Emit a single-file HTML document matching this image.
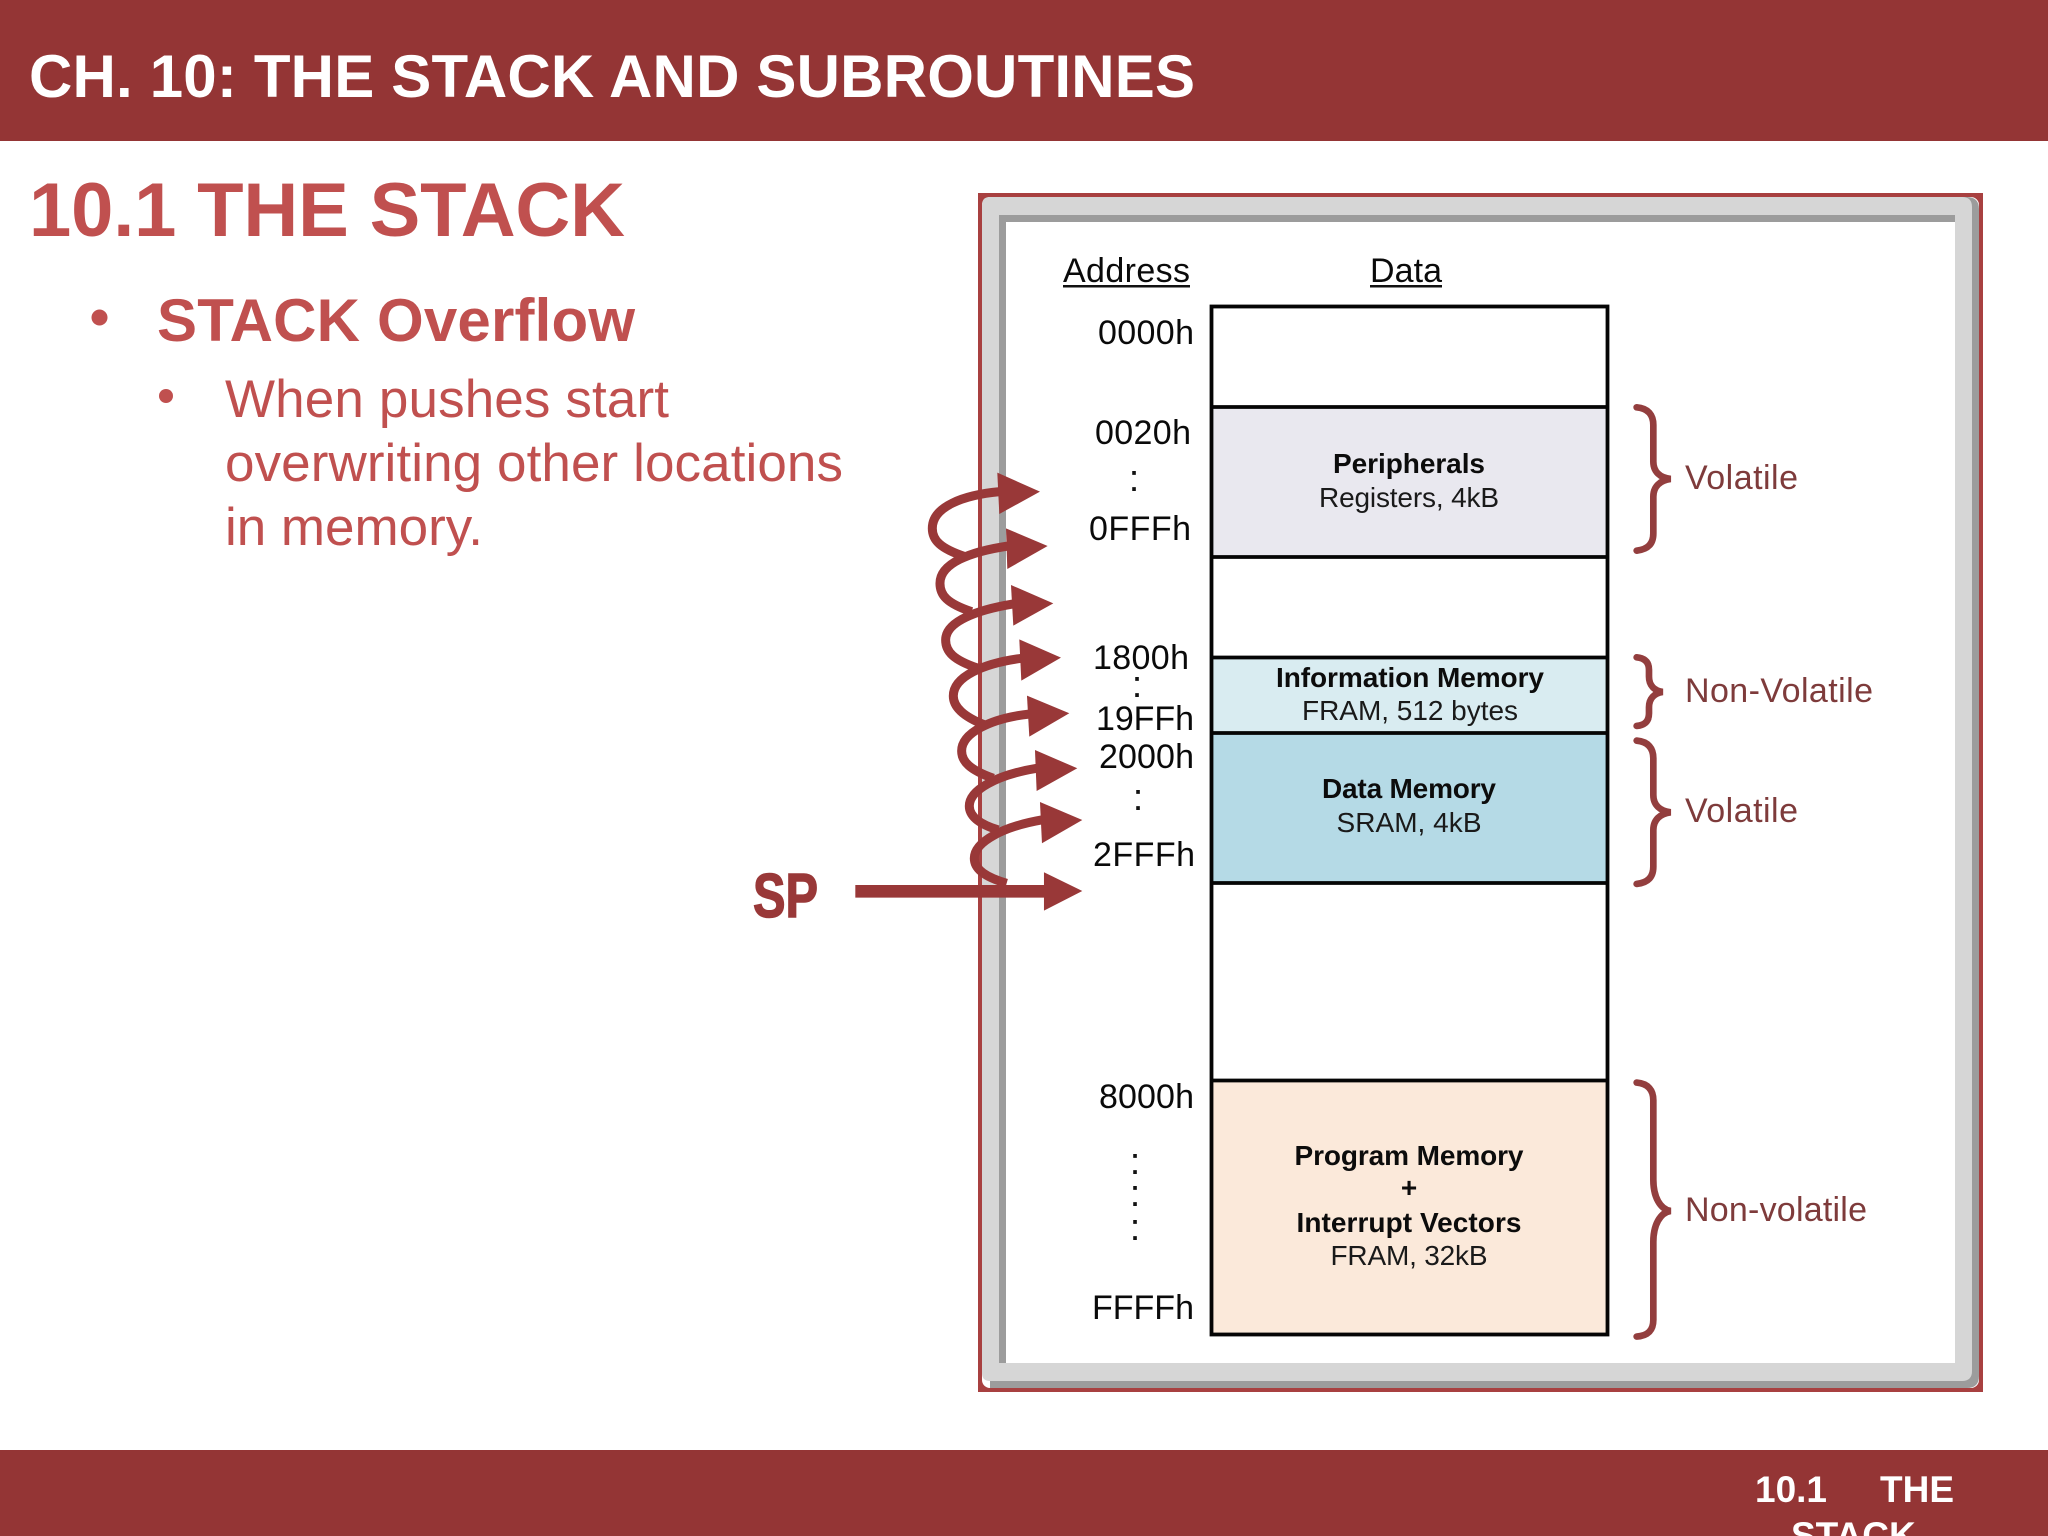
<!DOCTYPE html>
<html><head><meta charset="utf-8"><style>
html,body{margin:0;padding:0;background:#fff;width:2048px;height:1536px;overflow:hidden}
svg{display:block}
text{font-family:"Liberation Sans",Arial,sans-serif}
.a{font-size:34px;fill:#0a0a0a}
.b{font-size:28px;font-weight:bold;fill:#0c0c0c;text-anchor:middle}
.r{font-size:28px;fill:#1a1a1a;text-anchor:middle}
.v{font-size:34px;fill:#7e3b3b}
.c{font-size:38px;fill:#111;text-anchor:middle}
.t{font-size:53px;fill:#c0504f}
</style></head><body>
<svg xmlns="http://www.w3.org/2000/svg" width="2048" height="1536" viewBox="0 0 2048 1536">
<rect width="2048" height="1536" fill="#fff"/>
<rect width="2048" height="141" fill="#943535"/>
<rect y="1450" width="2048" height="86" fill="#943535"/>
<text x="29" y="97" font-size="60" font-weight="bold" fill="#fff" textLength="1166">CH. 10: THE STACK AND SUBROUTINES</text>
<text x="1755" y="1502" font-size="37" font-weight="bold" fill="#fff">10.1</text>
<text x="1880" y="1502" font-size="37" font-weight="bold" fill="#fff">THE</text>
<text x="1791" y="1548" font-size="37" font-weight="bold" fill="#fff">STACK</text>
<text x="29" y="236" font-size="76" font-weight="bold" fill="#c0504f" textLength="596">10.1 THE STACK</text>
<circle cx="99.5" cy="317.5" r="8" fill="#c0504f"/>
<text x="157" y="341" font-size="60" font-weight="bold" fill="#c0504f" textLength="478">STACK Overflow</text>
<circle cx="166" cy="396" r="7" fill="#c0504f"/>
<text class="t" x="225" y="417" textLength="444">When pushes start</text>
<text class="t" x="225" y="481" textLength="618">overwriting other locations</text>
<text class="t" x="225" y="545" textLength="258">in memory.</text>

<!-- panel -->
<rect x="978" y="193" width="1005" height="1199" fill="#a84040"/>
<rect x="982" y="197" width="997" height="1191" rx="8" fill="#fff"/>
<path d="M990 197H1967Q1979 197 1979 209V1376Q1979 1388 1967 1388H990Z" fill="#9c9c9c"/>
<path d="M990 197H1962Q1972 197 1972 207V1371Q1972 1381 1962 1381H990Q982 1381 982 1373V205Q982 197 990 197Z" fill="#d6d6d6"/>
<rect x="999" y="215" width="956" height="1148" fill="#9c9c9c"/>
<rect x="1006" y="222" width="949" height="1141" fill="#fff"/>

<!-- table -->
<rect x="1211" y="407" width="397" height="150" fill="#e9e8ef"/>
<rect x="1211" y="657" width="397" height="76" fill="#d9ecf1"/>
<rect x="1211" y="733" width="397" height="150" fill="#b5dae6"/>
<rect x="1211" y="1081" width="397" height="253" fill="#fbe9da"/>
<g stroke="#050505" stroke-width="3.8" fill="none">
<rect x="1211.5" y="306.5" width="396" height="1028"/>
<path d="M1211 407H1608M1211 557H1608M1211 657.5H1608M1211 733H1608M1211 883H1608M1211 1080.5H1608"/>
</g>

<!-- address labels -->
<text class="a" x="1063" y="282" textLength="127">Address</text>
<rect x="1063" y="285" width="127" height="2.5" fill="#111"/>
<text class="a" x="1370" y="282" textLength="72">Data</text>
<rect x="1370" y="285" width="72" height="2.5" fill="#111"/>
<text class="a" x="1098" y="344" textLength="96">0000h</text>
<text class="a" x="1095" y="444" textLength="96">0020h</text>
<text class="c" x="1134" y="491">:</text>
<text class="a" x="1089" y="540" textLength="102">0FFFh</text>
<text class="a" x="1093" y="669" textLength="96">1800h</text>
<text class="c" x="1137" y="697">:</text>
<text class="a" x="1096" y="730" textLength="98">19FFh</text>
<text class="a" x="1099" y="768" textLength="95">2000h</text>
<text class="c" x="1138" y="810">:</text>
<text class="a" x="1093" y="866" textLength="102">2FFFh</text>
<text class="a" x="1099" y="1108" textLength="95">8000h</text>
<text class="c" x="1135" y="1174">:</text>
<text class="c" x="1135" y="1206">:</text>
<text class="c" x="1135" y="1240">:</text>
<text class="a" x="1092" y="1319" textLength="102">FFFFh</text>

<!-- table text -->
<text class="b" x="1409" y="473" textLength="152">Peripherals</text>
<text class="r" x="1409" y="507" textLength="180">Registers, 4kB</text>
<text class="b" x="1410" y="687" textLength="268">Information Memory</text>
<text class="r" x="1410" y="720" textLength="216">FRAM, 512 bytes</text>
<text class="b" x="1409" y="798" textLength="174">Data Memory</text>
<text class="r" x="1409" y="832" textLength="145">SRAM, 4kB</text>
<text class="b" x="1409" y="1165" textLength="229">Program Memory</text>
<text class="b" x="1409" y="1197">+</text>
<text class="b" x="1409" y="1232" textLength="225">Interrupt Vectors</text>
<text class="r" x="1409" y="1265" textLength="157">FRAM, 32kB</text>

<!-- braces -->
<g transform="translate(1580,380) scale(0.3333)" fill="none" stroke="#933e3e" stroke-width="20" stroke-linecap="round" stroke-linejoin="miter">
<path d="M170 82C205 85 220 105 220 135L220 245C220 275 240 293 272 297C240 301 220 320 220 350L220 460C220 490 205 508 170 512"/>
<path d="M170 832C198 835 207 850 207 870L207 890C207 915 222 932 248 936C222 940 207 957 207 982L207 1000C207 1020 198 1035 170 1038"/>
<path d="M170 1082C205 1085 220 1105 220 1135L220 1245C220 1275 240 1293 272 1297C240 1301 220 1320 220 1350L220 1460C220 1490 205 1508 170 1512"/>
<path d="M170 2108C205 2111 220 2131 220 2161L220 2400C220 2450 240 2488 272 2493C240 2498 220 2536 220 2586L220 2820C220 2850 205 2868 170 2870"/>
</g>
<text class="v" x="1685" y="489" textLength="113">Volatile</text>
<text class="v" x="1685" y="702" textLength="188">Non-Volatile</text>
<text class="v" x="1685" y="822" textLength="113">Volatile</text>
<text class="v" x="1685" y="1221" textLength="182">Non-volatile</text>

<!-- SP and coil arrows -->
<text x="753" y="917" font-size="62" font-weight="bold" fill="#993838" stroke="#993838" stroke-width="1.5" textLength="65" lengthAdjust="spacingAndGlyphs">SP</text>
<g transform="translate(720,440) scale(0.3333)">
<g fill="none" stroke="#993838" stroke-width="27">
<path d="M735 350C660 325 637 300 637 265C637 200 730 165 840 155"/>
<path d="M755 515C680 490 660 465 660 430C660 370 750 335 865 318"/>
<path d="M775 685C700 660 677 635 677 600C677 545 770 510 880 492"/>
<path d="M795 855C730 830 700 800 700 768C700 710 790 670 905 655"/>
<path d="M820 1015C750 990 725 965 725 933C725 880 810 835 930 822"/>
<path d="M835 1170C770 1150 748 1125 748 1098C748 1050 830 1005 950 985"/>
<path d="M860 1330C790 1310 763 1285 763 1255C763 1205 850 1160 965 1140"/>
</g>
<g fill="#993838">
<path d="M832 98L960 155L838 222Z"/>
<path d="M858 265L983 318L862 387Z"/>
<path d="M873 435L1000 490L880 557Z"/>
<path d="M898 598L1023 653L904 722Z"/>
<path d="M921 767L1048 820L928 890Z"/>
<path d="M945 930L1072 985L950 1053Z"/>
<path d="M960 1086L1087 1140L966 1210Z"/>
<path d="M406 1335H972V1297L1087 1353L972 1412V1373H406Z"/>
</g>
</g>
</svg>
</body></html>
